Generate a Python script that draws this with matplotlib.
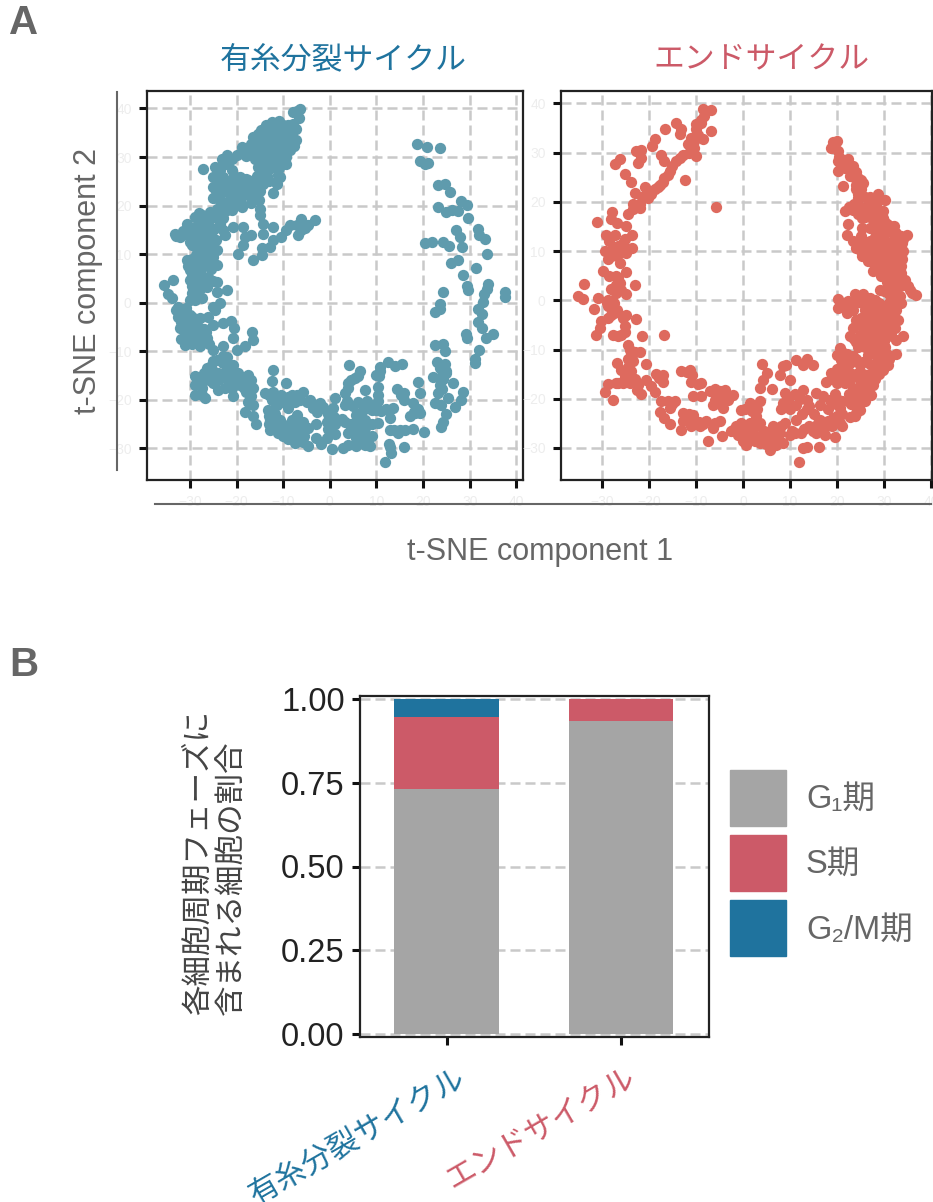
import matplotlib
matplotlib.use('Agg')
import matplotlib.pyplot as plt
from matplotlib.patches import Patch
from matplotlib.transforms import ScaledTranslation
import numpy as np

plt.rcParams['font.family'] = ['Liberation Sans', 'Noto Sans CJK JP', 'DejaVu Sans']

# t-SNE 座標
mitotic_points = [
    (-6.4,39.9),(-7.0,39.5),(-8.0,39.2),(-6.7,38.1),(-8.0,36.8),(-7.2,35.8),(-10.8,37.5),(-12.5,37.3),(-13.7,36.6),(-14.8,35.5),
    (-16.4,34.2),(-15.5,34.8),(-9.6,35.6),(-9.2,34.0),(-11.4,34.8),(-13.6,33.7),(-12.3,33.0),(-7.2,33.6),(-7.6,32.2),(-8.8,33.0),
    (-10.5,33.3),(-11.0,31.5),(-10.0,30.5),(-9.2,31.8),(-11.8,30.0),(-10.3,29.0),(-9.5,28.5),(-10.8,27.7),(-11.2,26.3),(-11.5,24.9),
    (-12.1,22.6),(-11.4,24.5),(-10.7,25.9),(-18.9,32),(-17.9,30.3),(-16,29.7),(-15.4,27.9),(-15.7,26.2),(-17.5,25.2),(-19.3,25.9),
    (-21,27.3),(-21,29.7),(-23.2,29.7),(-24.6,27.9),(-25,25.9),(-25,23.8),(-27.1,27.6),(-22.9,25.9),(-23.6,27.3),(-21.8,24.5),
    (-20,23.8),(-17.9,23.2),(-16,23.8),(-14.3,24.5),(-14.3,26.6),(-14.3,28.6),(-13.6,30.7),(-15,32),(-16.8,32.7),(-12.1,30.7),
    (-12.9,28.6),(-23.6,22.5),(-21.4,22.1),(-19.3,21.8),(-17.5,22.1),(-22.9,20.8),(-20.7,20.1),(-18.9,19.7),(-24.3,19.4),(-22.1,19),
    (-15.1,21.1),(-15,19.4),(-15,18),(-14.3,16.3),(-14.3,14.2),(-12.1,15.6),(-10.4,13.6),(-12.1,12.9),(-12.9,11.5),(-14.6,11.2),
    (-14.6,9.8),(-16.4,8.8),(-19.6,10.1),(-18.6,11.8),(-16.8,13.9),(-18.6,15.6),(-20.7,15.6),(-22.5,13.9),(-18.2,13.6),(-8.6,16),
    (-6.8,13.9),(-6.1,14.9),(-6.1,17.3),(-4.6,16),(-3.2,17.1),(-7.1,16),(-9.3,14.9),(-5.4,15.3),(-33.2,14.2),(-32.1,13.6),
    (-30.7,16.3),(-28.9,17.7),(-27.5,18),(-25.7,18.7),(-24.6,17.7),(-27.9,16),(-26.1,16.3),(-23.6,16.3),(-25,14.9),(-29.3,14.2),
    (-27.1,13.9),(-29.6,11.8),(-27.9,12.2),(-25.7,12.5),(-24.3,10.8),(-26.4,10.5),(-28.6,9.8),(-30.7,8.8),(-28.9,8.1),(-26.4,8.4),
    (-24.3,7.7),(-30,6.7),(-27.9,6.4),(-26.1,5.3),(-30,4.7),(-28.2,4),(-26.4,3.3),(-24.3,4.3),(-24.3,2.3),(-22.1,2.7),
    (-28.9,2.6),(-28.9,0.5),(-33.6,4.7),(-35.5,3.6),(-34.6,1.9),(-33.9,0.9),(-32.5,-0.8),(-31.4,-1.5),(-32.5,-2.9),(-30.7,-3.6),
    (-32.1,-5.1),(-29.3,-4.9),(-27.9,-3.2),(-26.1,-2.9),(-24.6,-1.5),(-23.6,-0.1),(-25,-0.8),(-27.9,-5.6),(-31,-7),(-31,-8.7),
    (-29.3,-7.3),(-27.9,-9),(-26.4,-7.3),(-25,-9.7),(-30.4,-6),(-25,-4.6),(-22.9,-4.2),(-21.2,-3.7),(-20.5,-5.3),(-20.7,-7.3),
    (-20,-9.7),(-18.2,-9),(-16.6,-6),(-16.4,-7.7),(-22.9,-9),(-22.1,-11.1),(-24.3,-11.8),(-26.4,-13.5),(-20.7,-12.8),(-22.1,-13.8),
    (-28.9,-15.1),(-28.9,-16.9),(-28.9,-19),(-26.8,-19.7),(-27.5,-17.6),(-25.7,-15.2),(-23.9,-14.5),(-23.9,-17.9),(-21.8,-16.2),(-20.7,-19.3),
    (-19.6,-14.5),(-17.5,-14.9),(-16.8,-15.9),(-19.3,-16.9),(-17.9,-18.3),(-16.8,-19.3),(-16.4,-21),(-18.2,-22.5),(-16.4,-23.4),(-15.9,-24.9),
    (-12.1,-13.8),(-12.5,-16.2),(-13.9,-18.6),(-12.1,-18.3),(-9.3,-16.6),(-10.4,-19),(-8.2,-19),(-5.7,-18.3),(-4.3,-20),(-2.1,-20.7),
    (-3.6,-21.7),(-6.4,-20),(-13.2,-22),(-11.4,-21),(-8.9,-21.7),(-7.1,-23.1),(-12.9,-24.1),(-10.7,-24.1),(-8.2,-24.1),(-5.7,-24.5),
    (-4.6,-25.8),(-12.9,-26.2),(-11.1,-26.8),(-9.6,-26.5),(-6.1,-26.8),(-7.5,-28.8),(-5.7,-28.6),(-4.6,-29.4),(-2.9,-27.9),(-0.7,-27.9),
    (0.5,-30.1),(2.9,-29.9),(3.9,-29.2),(5.7,-29.6),(7.5,-29.2),(7.9,-28.2),(5.7,-27.9),(3.9,-26.8),(3.2,-24.5),(5,-25.5),
    (7.5,-25.8),(5.7,-23.1),(7.5,-24.1),(0,-23.4),(0,-25.5),(0,-26.8),(0.7,-21.7),(-0.7,-24.5),(1.1,-19.7),(3.6,-20.3),
    (3.2,-18.6),(3.9,-16.6),(5.4,-15.5),(6.4,-14),(4.1,-12.8),(7.5,-17.9),(7.9,-20.3),(7.1,-22),(10,-22),(12.1,-21.9),
    (13.6,-21.7),(10.4,-24.8),(10.4,-17.3),(10.4,-19),(10.4,-20.3),(10,-14.9),(10.7,-13.2),(12.5,-12.3),(13.9,-13),(15.4,-12.6),
    (12.9,-23.8),(12.9,-26.2),(14.6,-26.8),(16.1,-26.2),(17.9,-26),(20.1,-26.7),(12.7,-29.1),(13.2,-31),(15.9,-29.8),(11.9,-32.8),
    (14.3,-17.8),(15.9,-18.6),(15.9,-20),(18.9,-16.4),(19.3,-18.6),(17.9,-20.7),(18.2,-22.7),(17.1,-23.4),(19.3,-22.7),(22.5,-20.7),
    (23.9,-21),(25,-22.9),(24.3,-24.5),(23.9,-25.5),(25.4,-19.7),(26.8,-21.4),(28.2,-20.1),(28.6,-18.4),(26.4,-16.6),(23.2,-18.6),
    (23.6,-16.9),(22.1,-15.2),(25,-14.5),(23.9,-15.2),(22.9,-12.1),(24.6,-12.6),(23.6,-13.5),(22.5,-8.7),(24.3,-8.4),(24.6,-9.9),
    (22.5,-2),(23.6,-0.3),(23.6,-1.2),(24.3,2.2),(31.1,-12.5),(31.1,-11.6),(32,-9.7),(29.3,-7.3),(29.1,-6.4),(33.4,-7.3),
    (34.9,-6.4),(32.7,-5.3),(31.8,-3.9),(32.6,-2.4),(31.8,-1.2),(32.9,0.2),(33.1,1.9),(33.6,2.9),(33.9,3.8),(37.6,2.3),
    (37.5,1.1),(29.6,2.6),(29.3,3.4),(28.6,5.8),(31.4,7.2),(25.9,8.1),(27.4,8.8),(33.6,10.1),(33.2,13.1),(31.8,15.1),
    (32,13.9),(28.4,11.5),(25.6,11.6),(24.3,12.5),(20.4,12.3),(21.8,12.5),(27.9,13.6),(27,14.9),(29.6,17.5),(29.3,20.1),
    (28.2,21),(27.5,18.9),(26.1,19),(25,18.7),(23.1,19.7),(25.7,22.8),(24.6,24.5),(23.2,24.3),(23.6,31.8),(20.9,32.1),
    (18.7,32.6),(19.3,29.1),(21.1,28.8),(20.4,28.6),
    # 密集部
    (-24,24.5),(-24,26.5),(-23,24),(-22,23),(-20.5,22.5),(-19,23),(-18,24),(-17,24.5),(-16.5,25),(-15,25),
    (-15,23),(-16,22),(-17,20.5),(-19,20.5),(-21,19),(-23,18.5),(-21,21),(-23.5,21),(-25,21.5),(-24.5,23),
    (-22.5,28.5),(-22,30.5),(-20,30.5),(-19,30.8),(-18,31.5),(-17,31),(-16,31),(-15.5,30.5),(-14.5,30),(-15,29),
    (-13,29.5),(-13,27.5),(-13.5,26),(-13,25),(-13,32),(-14,33),(-15,33.5),(-14,35),(-13,35.5),(-12,36),
    (-11,36.5),(-10,36.5),(-9,36.5),(-8.5,35.3),(-8.2,34.5),(-7.8,33.8),(-12,34.5),(-11,33.5),(-10,32.5),(-12,31.8),
    (-13,31),(-11,29.5),(-12,28.5),(-11.5,28),(-9.3,30),(-8.5,31.5),(-20.5,26),(-21,25),(-19,24.5),(-18,25.5),
    (-33,13.8),(-31.5,14.8),(-30.5,14),(-30,15),(-29,15.5),(-28,15),(-27,15.5),(-26,15),(-28,18.5),(-26.5,17),
    (-25.5,17.5),(-24,15.5),(-23,17.5),(-23,15),(-24.5,13),(-26,13.5),(-28,13),(-29,13),(-30,12.5),(-28.5,11),
    (-27,11),(-26,11.5),(-25,9.5),(-27,9.5),(-29.5,9),(-30.5,7.5),(-29,7),(-28,8.5),(-27,7.5),(-25.5,7),
    (-29.5,5.5),(-28.5,5.5),(-27,5),(-25,4.5),(-29.5,3.5),(-29.5,2),(-28.5,1.5),(-27.5,1),(-27.8,2.8),(-30,0.5),
    (-33,-1.5),(-32.5,-2),(-31.5,-3),(-31,-2),(-30,-2.5),(-29.5,-3),(-31,-4.5),(-30,-5),(-29,-6),(-28.5,-4.5),
    (-28,-7),(-30,-7.5),(-32,-7.5),(-29.5,-8.5),(-28.5,-8),(-27,-8),(-26,-8.5),(-27,-5.5),(-26.5,-6),(-32,-4),
    (-30.8,-1),(-25.5,-13),(-25,-12),(-23,-11),(-23,-12.5),(-25,-14),(-27,-14.5),(-27.5,-16),(-26,-16),(-25,-16.5),
    (-24,-16),(-22.5,-15),(-21,-14.5),(-20.5,-15.5),(-20,-16.5),(-22.5,-17.5),(-21,-17.5),(-19,-15.5),(-18.5,-16),(-18.5,-17.5),
    (-22,-12.5),(-17.5,-20.5),(-16.5,-17.5),(-27.5,-19),(-13,-19),(-12.5,-20),(-11,-19.5),(-10,-20.5),(-9,-19.5),(-7,-19),
    (-7.5,-20.5),(-5,-20.5),(-12.5,-22.5),(-13,-23.3),(-12,-25),(-11.8,-23),(-10.5,-25.5),(-13,-25),(-7,-25.5),(-6.5,-25),
    (-7,-28),(-6.2,-27.8),(-5.5,-27.5),(-0.5,-23),(0.8,-23.5),(-0.5,-26),(1,-25),(1,-27),(0.2,-22.5),(4.5,-25),
    (4.5,-26),(6,-26),(6.5,-27),(6.5,-28.5),(7.5,-27),(6.5,-24),(9,-22),(11,-22.2),(8.5,-21.5),(10.7,-14),
    (10.5,-15),(3.3,-21),(3.8,-17.5),(4.5,-16),(6,-15),(15,-26.3),(13.7,-26.3),(18,-22.5),(19,-21.8),(15.3,-19),
    (13,-29.8),(24.8,-14),(24.3,-15.8),(24,-17.8),(-2.8,-22.5),(-1.5,-21.5),(-2,-29),(-3,-25),(-9,-25.2),(-8,-26.5),
    (-9,-28),(-10,-27.5),(2.5,-24),(8.5,-29.5),(9,-27.5),(9,-25),(6,-20.5),(5,-21.2),
]

endo_points = [
    (-8.5,38.9),(-6.9,38.6),(-8.9,36.7),(-6.9,34.4),(-9.9,34.7),(-9.9,35.7),(-8.5,32.7),(-11,33),(-11.7,31.7),(-9.9,29.2),
    (-12.8,29.6),(-14.2,28.3),(-15.6,26.2),(-16.7,24.9),(-17.7,23.5),(-18.8,22.5),(-20.2,20.8),(-20.9,23.1),(-23,21.8),(-22,18.8),
    (-23.4,19.5),(-24.5,17.6),(-12.4,24.5),(-5.8,19),(-16.5,34.7),(-14.2,36.1),(-13.1,34.7),(-13.5,33.7),(-18.8,32.8),(-19.4,31.3),
    (-17.4,29.6),(-16.9,28.3),(-22.7,30.3),(-21.6,30.5),(-21.6,28.9),(-22.3,27.9),(-26.2,28.7),(-27.3,27.6),(-25.1,25.6),(-23.8,24),
    (-27.8,18),(-28,16.5),(-26.9,15.7),(-31.1,15.9),(-24.8,15.1),(-23.7,13.2),(-29.1,13.2),(-27.3,13.2),(-23.7,10.6),(-25.5,11.7),
    (-29.4,10),(-27.7,10.3),(-24.8,9.6),(-28.7,8.3),(-26.2,7.6),(-29.8,6),(-24.8,5.7),(-28.4,4.9),(-26.2,3.5),(-23,3),
    (-33.8,3.3),(-35.1,0.8),(-34,0.3),(-30.9,0.5),(-28.7,0.1),(-27,1.5),(-24.8,1.2),(-31.6,-1.8),(-28.7,-1.2),(-26.9,-1.9),
    (-28.7,-3.6),(-24.8,-2.9),(-22.8,-3.8),(-30.3,-4.3),(-30.5,-5.6),(-31.3,-7),(-27.7,-7),(-25.9,-7),(-25.2,-5.2),(-21.4,-7.2),
    (-16.9,-7),(-24.5,-9),(-22,-10.6),(-23.8,-11.1),(-26.9,-12.7),(-20.6,-12.9),(-23.4,-12.4),(-25.9,-14.1),(-23.8,-14.4),(-24.8,-15.8),
    (-28.7,-17),(-29.4,-18.6),(-27.7,-20.3),(-26.6,-16.9),(-22.3,-17.2),(-20.6,-16.1),(-21.6,-19),(-18.8,-18.6),(-18.4,-14.9),(-17,-15.1),
    (-17,-16.5),(-13.1,-14.3),(-11.2,-14.1),(-11,-16.5),(-8.9,-16.8),(-6,-18),(-3.9,-18.2),(-2.1,-19.3),(-10.6,-19.5),(-9,-19.5),
    (-5,-19.5),(-3.2,-20.2),(-6.4,-21.2),(-4.3,-21.9),(-17.4,-20.5),(-14.4,-20.5),(-15.6,-21.9),(-17.6,-22.6),(-16.7,-23.9),(-15.5,-25.2),
    (-12.8,-22.9),(-10.6,-23.3),(-12.8,-24.6),(-13.1,-26.3),(-9.2,-25.6),(-7.8,-24.6),(-6.4,-26),(-5,-24.6),(-4.5,-27.5),(-7.4,-28.5),
    (-2.1,-26.3),(-0.4,-22.2),(1.4,-20.9),(3.5,-20.5),(-1.1,-27.3),(0.7,-29.4),(1.4,-24.9),(2.8,-23.6),(2.1,-27),(4.3,-28),
    (5.7,-30.4),(6,-29),(8.5,-29),(6.4,-25.6),(8.9,-24.9),(7.8,-27),(4.1,-12.9),(5,-14.8),(4.3,-16.1),(3.5,-17.8),
    (6.2,-18),(8.5,-13.4),(9.2,-13.1),(7.8,-15.1),(9.9,-16.1),(11.3,-12.1),(13.6,-11.9),(14.9,-13.1),(12.8,-13.1),(8.9,-18.8),
    (12.8,-18.2),(15.6,-18.8),(8.5,-20.9),(11.3,-21.2),(11.3,-24.3),(13.5,-20.2),(16.3,-21.2),(18.4,-20.2),(20.6,-21.9),(19.1,-23.9),
    (16.3,-24.3),(20.6,-24.9),(17.7,-25.6),(14.9,-26.6),(12.4,-27),(19.5,-27.7),(12.8,-30),(16.1,-29.8),(11.9,-32.8),(9.9,-27.3),
    (17.4,-27.3),(23.8,-23.6),(24.8,-22.2),(22.3,-20.5),(24.1,-20.2),(27.3,-19.2),(25.9,-20.5),(27.7,-17.2),(25.5,-18.2),(23.4,-17.8),
    (21.6,-16.8),(17.7,-16.5),(18.8,-14.8),(20.6,-15.5),(22.7,-14.8),(24.8,-16.1),(26.6,-15.5),(28,-14.8),(29.8,-14.1),(30.9,-13.1),
    (24.8,-13.1),(22.7,-12.7),(20.9,-12.1),(19.9,-11.1),(20.6,-9.7),(23.4,-11.4),(26.6,-11.1),(28.7,-11.7),(32.6,-10.9),(30.1,-9.4),
    (24.5,-9.4),(26.6,-8.7),(28.7,-8),(30.9,-7.3),(34,-7.2),(32.6,-8),(22.7,-7.3),(24.8,-7),(27,-6.3),(29.4,-5.6),
    (32.3,-5.6),(23.4,-5.6),(25.5,-4.6),(28,-4.3),(30.5,-3.9),(33,-4.1),(26.2,-2.6),(28.7,-2.6),(30.9,-2.9),(20.2,0.3),
    (20.2,-1.6),(22,-2.6),(23.4,-1.9),(22.3,-0.2),(23.8,1.2),(25.5,1.2),(27.7,-0.5),(27,-1.2),(25.2,-0.5),(29.8,-1.2),
    (32.6,-0.9),(31.6,0.5),(29.1,2),(33.3,0.8),(36.7,1),(35.1,2.8),(33.3,2.8),(31.2,3.5),(29.4,4.9),(31.9,4.9),
    (34.4,4.2),(27.7,5.9),(30.1,6.6),(32.9,6.2),(26.6,7.9),(29.1,8.3),(31.6,8.3),(33.7,8.3),(25.2,8.9),(27.3,9.6),
    (30.1,10),(33,10.3),(24.1,10.6),(26.2,11.7),(28.7,11.7),(31.2,11.7),(33.7,11.7),(22,13.2),(23.4,12),(34.8,13.2),
    (32.6,13.7),(30.1,13.7),(28.7,14.7),(31.2,15.1),(25.2,14.7),(27,14.7),(22.3,15.4),(25.2,16.7),(27.7,16.4),(29.8,16.7),
    (21.6,18.1),(23.4,18.4),(26,18.1),(28.4,18.8),(29.8,18.1),(26.6,20.5),(28.7,21.5),(30.1,20.3),(28.4,20.1),(24.5,20.8),
    (24.1,22.5),(25.5,23.9),(21.3,23.3),(24.5,24.9),(22.7,25.2),(20.2,26.2),(21.6,26.9),(23.4,27.3),(22.3,28.6),(20.2,28.3),
    (20.2,30.3),(18.8,31),(19.1,32.1),(19.9,32.3),(19.5,31.7),
    # 密集部
    (20.5,29),(21,28),(21.5,28.5),(20.8,27),(22,27.5),(23,26),(24,26),(23.5,25),(25,24.5),(24,23.5),
    (25,22.5),(24.5,21.5),(26,21),(27,21),(27.5,19.5),(27,19.5),(25,19),(23.5,19.5),(22.5,19),(24.5,18),
    (24.5,17.5),(26,17),(27,17.5),(28,17.5),(29,17),(28.5,16),(30,16),(30.5,15.5),(31,14),(29,15),
    (29.2,13.5),(32,15),(33,13),(33.5,13),(34,12.5),(33,12),(32,12.5),(30,12.5),(29.5,11.5),(28,12.8),
    (25,13),(24.5,12),(25.5,11),(27,12),(27.5,11),(28,10),(29,10.3),(31,10.5),(32,10),(34,10),
    (33.5,9),(32.5,9),(30.5,9),(28,9),(26,9.8),(25,10),(26.5,8.8),(27.8,7.5),(30.5,7.8),(32,7.5),
    (33.5,7),(28.8,6.8),(31,6),(32,5.5),(33.5,5.5),(29,6),(30.5,5),(33,4.5),(30.5,3.8),(32,3.5),
    (34,3.5),(34.5,3),(32,2),(30.5,2.5),(31,1.2),(32.5,1.5),(30,1.8),(32,0),(31,-0.5),(33.5,-0.5),
    (35.5,2),(36,1.5),(24.5,-0.3),(26,0),(27,0.5),(26.5,-0.2),(28,0),(29,-0.5),(21,-1.2),(21.5,-0.5),
    (23,-0.5),(26,-2),(27.5,-3),(29,-3.5),(30,-2),(31.5,-2.2),(32,-3),(32.5,-2),(28,-1.5),(24,-4),
    (25,-3.5),(26.5,-4.5),(27,-3.7),(29,-4.5),(31.5,-4.7),(30.5,-5),(24,-5),(25.5,-5.5),(26.5,-5.5),(28,-5.5),
    (27,-7.2),(28,-7),(29.5,-7),(31,-6),(31.5,-7),(25.5,-7.5),(23.5,-7.8),(25.5,-8.5),(27.5,-9),(29,-9.2),
    (30,-8.3),(24,-8.4),(26,-9.5),(28,-10),(29.5,-10.5),(30.5,-11),(30,-12),(31,-12),(29,-13),(28,-13),
    (29,-15),(27,-13),(25.5,-12.5),(24,-12),(22,-11),(21,-10.5),(22,-13.5),(21,-13.5),(20,-14),(19,-16),
    (20,-16.8),(21,-15),(23,-15.8),(24,-15),(25.5,-15),(27,-15),(26.5,-17),(28,-16),(25,-17),(23.5,-19.2),
    (25,-19.5),(26.5,-18.5),(22.5,-19),(23,-21),(24.5,-21.5),(22.8,-23.8),(24,-22.8),(19.5,-19),(20,-20),(21,-20.5),
    (17,-19.5),(19,-21),(18,-22),(21,-23),(20,-23.5),(18,-24.5),(21,-25.5),(19,-25.5),(16,-25),(15,-23),
    (14,-21.5),(12,-20),(11,-19),(9.5,-20),(10,-22),(8,-22),(13.5,-22),(12.5,-23),(14,-25.5),(17,-26.8),
    (13,-26.2),(11,-27),(10.5,-26.5),(15.5,-27),(13.5,-29.7),(-0.5,-25),(0.3,-26.5),(1,-28),(0,-28.5),(2.5,-28.5),
    (3.5,-29),(1.2,-26.5),(2.7,-25.5),(3.5,-25),(2,-22.5),(0.5,-22),(3,-22),(4.5,-26.5),(5.2,-27.5),(6.8,-28),
    (7,-29.3),(7.5,-26),(5.5,-27),(4.8,-29.2),(3.5,-27.5),(8,-25.5),(-1.5,-25.5),(-2.5,-26.5),(-0.5,-27.5),(-12,-24),
    (-11.5,-23),(-10,-25),(-11,-25.5),(-9.3,-24.8),(-8.5,-25.2),(-6,-25),(-5.5,-20.5),(-5,-21),(-6,-20.2),(-4,-19.5),
    (-5,-18.5),(-7,-18.5),(-9.5,-17),(-16,-20.5),(-15,-21),(-12,-14.5),(-10.8,-15.2),(-27,5),(-26.5,4.5),(-27,3),
    (-26,2),(-28,2.2),(-26.8,9),(-28,9),(-26,10),(-26.5,11),(-25,12.5),(-28.5,12),(-29,-0.5),(-27.5,-0.5),
    (-27.5,-2.5),(-28,-3),(-25.5,-3.5),(-26.5,-7.3),(-25,-6.5),(-24,-10),(-23,-10.5),(-24.5,-12),(-24.5,-13.5),(-25,-15.5),
    (-23,-16),(-25.5,-16.8),(-24,-16.8),(-22.5,-18.3),(-19.5,-17.5),(-17.8,-15.8),(-27,-16.8),(-10.5,31),(-10.8,30.2),(-11.5,30),
    (-13.5,28.8),(-15,27.2),(-16,25.5),(-17,24),(-18,23),(-19.5,21.5),(-21.5,21),(-22,19.5),(-23.5,18.5),(-9,36),
    (-8.3,37.5),(-9.5,33.5),(-10.5,32.3),
]

tsne_ticks = [-30, -20, -10, 0, 10, 20, 30, 40]

cycle_names = ['有糸分裂サイクル', 'エンドサイクル']
g1_frac = [0.731, 0.934]
s_frac = [0.215, 0.066]
g2m_frac = [0.054, 0.0]
phase_labels = ['G₁期', 'S期', 'G₂/M期']
frac_ticks = [0.00, 0.25, 0.50, 0.75, 1.00]

BLUE = '#1F739E'
RED = '#CC5A68'
GRAY_BAR = '#A5A5A5'
TEAL = '#5F9BAD'
CORAL = '#DE6A5E'
GRID = '#C9C9C9'
DARK = '#222222'
TEXT_GRAY = '#666666'

W, H = 933, 1202
fig = plt.figure(figsize=(W / 100, H / 100), dpi=100, facecolor='white')


def add_axes_px(left, top, right, bottom):
    return fig.add_axes([left / W, 1 - bottom / H, (right - left) / W, (bottom - top) / H])


def fig_text(x, y, s, **kw):
    return fig.text(x / W, 1 - y / H, s, **kw)


def style_axes(ax):
    for sp in ax.spines.values():
        sp.set_linewidth(1.6)
        sp.set_color(DARK)
    ax.grid(True, color=GRID, linestyle=(0, (4, 2)), linewidth=1.8)
    ax.set_axisbelow(True)


def draw_tsne(ax, points, color, xlim, ylim):
    xs, ys = zip(*points)
    ax.scatter(xs, ys, s=66, color=color, linewidths=0, zorder=3)
    ax.set_xlim(*xlim)
    ax.set_ylim(*ylim)
    ax.set_xticks(tsne_ticks)
    ax.set_yticks(tsne_ticks)
    ax.tick_params(length=6, width=2.2, color='#111111', labelsize=10, labelcolor='#EDEDED', pad=5)
    style_axes(ax)


ax1 = add_axes_px(147, 91, 522.5, 480)
draw_tsne(ax1, mitotic_points, TEAL, (-39.2, 41.3), (-36.5, 43.6))
ax2 = add_axes_px(561, 91, 931.7, 480)
draw_tsne(ax2, endo_points, CORAL, (-38.7, 40.1), (-36.5, 42.5))

fig_text(343, 60, cycle_names[0], color=BLUE, fontsize=22.2, ha='center', va='center')
fig_text(761, 60, cycle_names[1], color=RED, fontsize=22.2, ha='center', va='center')

# 共通の軸線
fig.add_artist(plt.Line2D([117 / W, 117 / W], [1 - 92 / H, 1 - 470 / H], color=TEXT_GRAY, lw=1.5))
fig.add_artist(plt.Line2D([155 / W, 931 / W], [1 - 504 / H, 1 - 504 / H], color=TEXT_GRAY, lw=1.5))
fig_text(88, 281, 't-SNE component 2', color=TEXT_GRAY, fontsize=22, rotation=90, ha='center', va='center')
fig_text(540, 552, 't-SNE component 1', color=TEXT_GRAY, fontsize=22, ha='center', va='center')

fig_text(9, 23, 'A', color=TEXT_GRAY, fontsize=29, fontweight='bold', ha='left', va='center')
fig_text(9, 665, 'B', color=TEXT_GRAY, fontsize=29, fontweight='bold', ha='left', va='center')

# 積み上げ棒グラフ
ax3 = add_axes_px(360, 696, 709, 1037)
pos = np.arange(len(cycle_names))
g1 = np.array(g1_frac)
s_phase = np.array(s_frac)
g2m = np.array(g2m_frac)
ax3.bar(pos, g1, 0.6, color=GRAY_BAR, zorder=3)
ax3.bar(pos, s_phase, 0.6, bottom=g1, color=RED, zorder=3)
ax3.bar(pos, g2m, 0.6, bottom=g1 + s_phase, color=BLUE, zorder=3)
ax3.set_xlim(-0.496, 1.504)
ax3.set_ylim(-0.009, 1.009)
ax3.set_yticks(frac_ticks)
ax3.set_yticklabels([f'{v:.2f}' for v in frac_ticks])
ax3.set_xticks(pos)
ax3.set_xticklabels(cycle_names, rotation=30, ha='right', rotation_mode='anchor', fontsize=22)
ax3.tick_params(length=6, width=2.2, color='#111111')
ax3.tick_params(axis='y', labelsize=23.5, labelcolor='#222222', pad=5)
ax3.tick_params(axis='x', pad=13)
for lab, col, shift in zip(ax3.get_xticklabels(), [BLUE, RED], [10, 5]):
    lab.set_color(col)
    lab.set_transform(lab.get_transform() + ScaledTranslation(shift / 100, 0, fig.dpi_scale_trans))
style_axes(ax3)
ax3.grid(False, axis='x')

fig_text(216, 1015, '各細胞周期フェーズに\n含まれる細胞の割合', color='#444444', fontsize=22,
         rotation=90, ha='center', va='bottom', ma='left', linespacing=1.17)

legend_handles = [Patch(color=GRAY_BAR), Patch(color=RED), Patch(color=BLUE)]
fig.legend(legend_handles, phase_labels, loc='upper left', bbox_to_anchor=(730 / W, 1 - 770 / H),
           frameon=False, fontsize=23.5, labelcolor=TEXT_GRAY, handlelength=1.715, handleheight=2.26,
           labelspacing=0.28, handletextpad=0.61, borderpad=0, borderaxespad=0)

fig.savefig('out.png', dpi=100)
plt.close(fig)
